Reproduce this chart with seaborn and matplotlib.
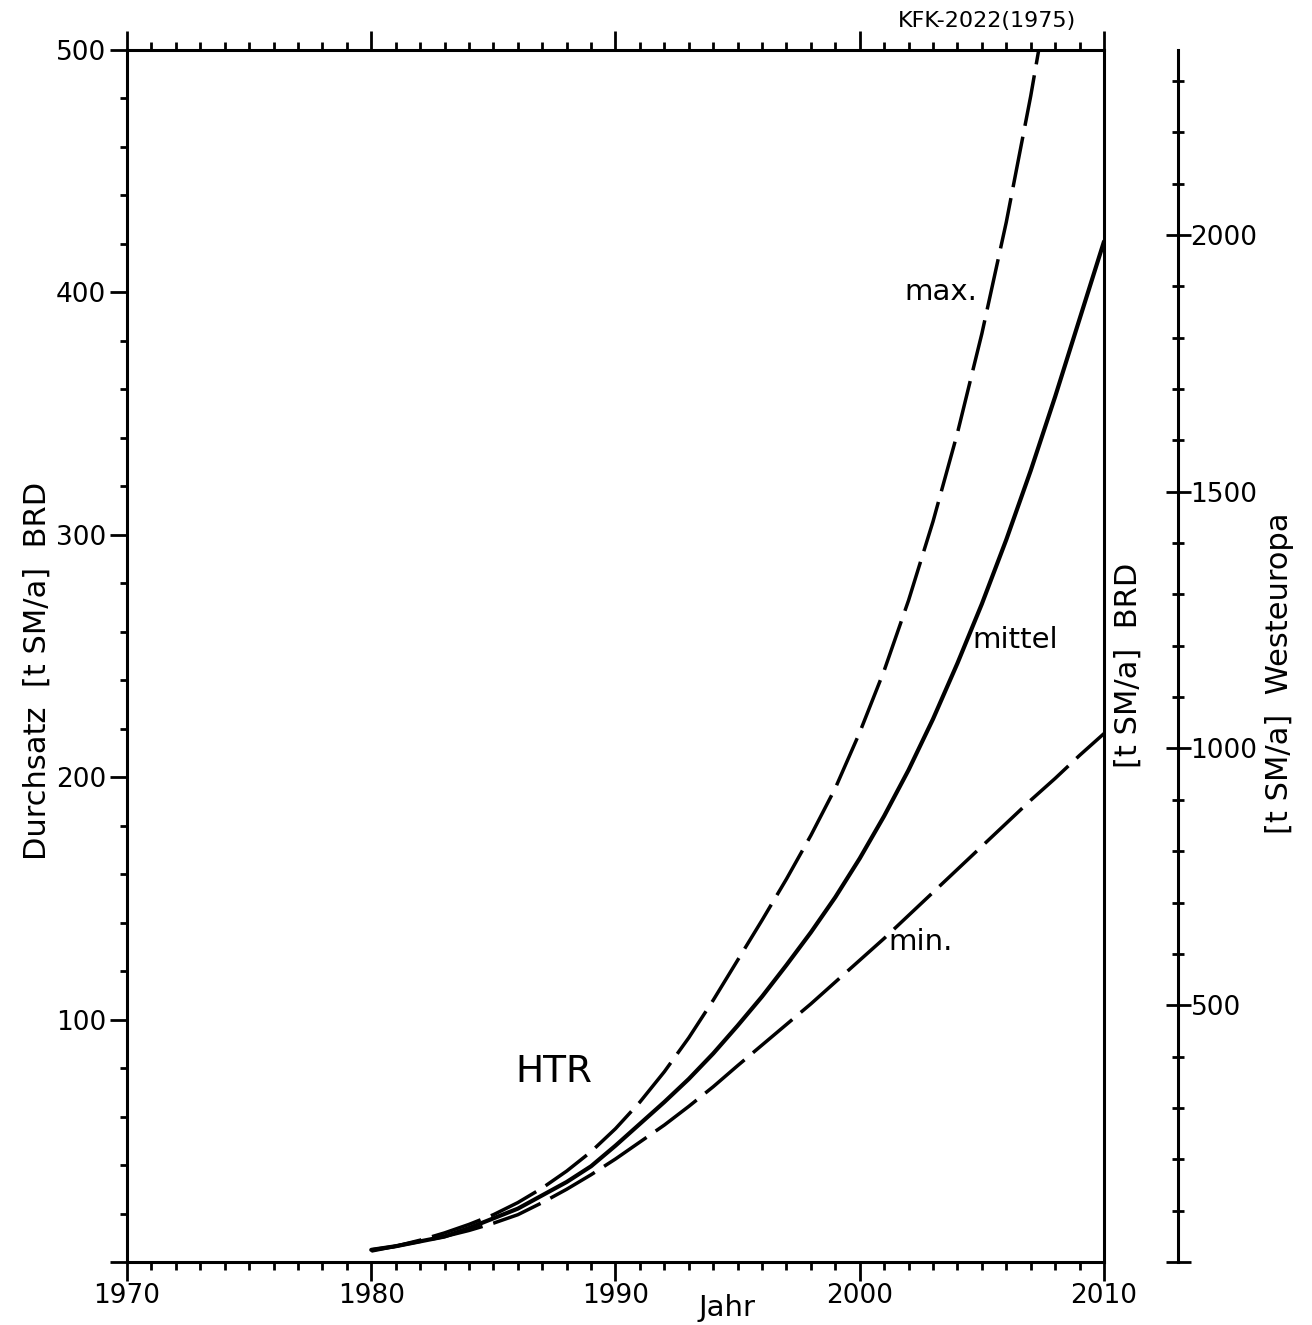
import matplotlib
matplotlib.use("Agg")
import matplotlib.pyplot as plt
import seaborn as sns
import pandas as pd
from matplotlib.ticker import FixedLocator, MultipleLocator

# ---------------- data ----------------
years = [1980, 1981, 1982, 1983, 1984, 1985, 1986, 1987, 1988, 1989,
         1990, 1991, 1992, 1993, 1994, 1995, 1996, 1997, 1998, 1999,
         2000, 2001, 2002, 2003, 2004, 2005, 2006, 2007, 2008, 2009, 2010]

mittel = [5, 6.5, 8.5, 10.5, 14, 18, 22, 27.5, 33, 39.5,
          48, 57, 66, 75.5, 86, 97.5, 109.5, 122.5, 136, 150.5,
          166.5, 184, 203, 224, 247, 271.5, 298, 326.5, 357, 389, 421]

min_vals = [5, 6.5, 8.5, 10.5, 13, 16, 19.5, 24.5, 30, 36,
            42.5, 49.5, 56.5, 64.2, 72.3, 81, 89.5, 98, 106.5, 115.5,
            124.5, 133.5, 143, 152.5, 162, 171.5, 181, 190.5, 199.5, 209, 218]

max_years = [1980, 1981, 1982, 1983, 1984, 1985, 1986, 1987, 1988, 1989,
             1990, 1991, 1992, 1993, 1994, 1995, 1996, 1997, 1998, 1999,
             2000, 2001, 2002, 2003, 2004, 2005, 2006, 2007, 2008]
max_vals = [4.5, 6.5, 9, 12, 15.5, 19.5, 24.5, 30.5, 37.5, 45.5,
            55, 66, 78.5, 92.5, 108, 124.5, 141, 158, 176, 195.5,
            218.5, 244, 273, 305.5, 342, 383, 429, 481, 539]

x_major = [1970, 1980, 1990, 2000, 2010]
x_labels = ["1970", "1980", "1990", "2000", "2010"]
y_major = [0, 100, 200, 300, 400, 500]
y_labels = ["", "100", "200", "300", "400", "500"]
we_major = [0, 500, 1000, 1500, 2000]
we_labels = ["", "500", "1000", "1500", "2000"]
we_minor = [v for v in range(100, 2400, 100) if v % 500 != 0]

# ---------------- style ----------------
sns.set_style("ticks")
plt.rcParams["font.family"] = ["DejaVu Sans"]
plt.rcParams["lines.scale_dashes"] = False
plt.rcParams["axes.linewidth"] = 2.2
plt.rcParams["axes.edgecolor"] = "black"
plt.rcParams["text.color"] = "black"
plt.rcParams["xtick.color"] = "black"
plt.rcParams["ytick.color"] = "black"

fig = plt.figure(figsize=(13.12, 13.25), dpi=100)
fig.patch.set_facecolor("white")
ax = fig.add_axes([0.0968, 0.04755, 0.74466, 0.91471])
ax.set_facecolor("white")

df_mid = pd.DataFrame({"Jahr": years, "Durchsatz": mittel})
df_min = pd.DataFrame({"Jahr": years, "Durchsatz": min_vals})
df_max = pd.DataFrame({"Jahr": max_years, "Durchsatz": max_vals})

sns.lineplot(data=df_max, x="Jahr", y="Durchsatz", ax=ax, color="black",
             linewidth=2.5, legend=False)
ax.lines[-1].set_dashes((37, 8))
sns.lineplot(data=df_min, x="Jahr", y="Durchsatz", ax=ax, color="black",
             linewidth=2.5, legend=False)
ax.lines[-1].set_dashes((37, 8))
sns.lineplot(data=df_mid, x="Jahr", y="Durchsatz", ax=ax, color="black",
             linewidth=3.0, legend=False)

ax.set_xlim(1970, 2010)
ax.set_ylim(0, 500)
ax.set_xlabel("")
ax.set_ylabel("")

for s in ax.spines.values():
    s.set_visible(True)
    s.set_linewidth(2.2)

ax.xaxis.set_major_locator(FixedLocator(x_major))
ax.xaxis.set_minor_locator(MultipleLocator(1))
ax.set_xticklabels(x_labels)
ax.yaxis.set_major_locator(FixedLocator(y_major))
ax.yaxis.set_minor_locator(MultipleLocator(20))
ax.set_yticklabels(y_labels)

ax.tick_params(axis="x", which="major", direction="out", length=14, width=2.0,
               top=True, bottom=True, labeltop=False, labelsize=19, pad=1)
ax.tick_params(axis="x", which="minor", direction="out", length=6, width=2.0,
               top=True, bottom=True)
ax.tick_params(axis="y", which="major", direction="out", length=12, width=2.0,
               left=True, right=True, labelright=False, labelsize=19, pad=3)
ax.tick_params(axis="y", which="minor", direction="out", length=5, width=2.0,
               left=True, right=True)

# Westeuropa axis
ax2 = ax.twinx()
ax2.set_ylim(0, 2360)
for side in ("left", "top", "bottom"):
    ax2.spines[side].set_visible(False)
ax2.spines["right"].set_position(("axes", 1.0757))
ax2.spines["right"].set_linewidth(2.2)
ax2.yaxis.set_major_locator(FixedLocator(we_major))
ax2.set_yticklabels(we_labels)
ax2.yaxis.set_minor_locator(FixedLocator(we_minor))
ax2.tick_params(axis="y", which="major", direction="inout", length=18, width=2.0,
                labelsize=19, pad=0)
ax2.tick_params(axis="y", which="minor", direction="inout", length=9, width=2.0)

# curve labels
ax.text(2003.33, 400, "max.", fontsize=21, ha="center", va="center")
ax.text(2006.36, 256.6, "mittel", fontsize=21, ha="center", va="center")
ax.text(2002.5, 132, "min.", fontsize=21, ha="center", va="center")
ax.text(1987.48, 78.4, "HTR", fontsize=27, ha="center", va="center")

# axis titles
fig.text(0.554, 0.0128, "Jahr", fontsize=21, ha="center", va="center")
fig.text(0.752, 0.984, "KFK-2022(1975)", fontsize=16, ha="center", va="center")
fig.text(0.0282, 0.4936, "Durchsatz  [t SM/a]  BRD", fontsize=22, rotation=90,
         ha="center", va="center")
fig.text(0.8598, 0.498, "[t SM/a]  BRD", fontsize=22, rotation=90,
         ha="center", va="center")
fig.text(0.9755, 0.492, "[t SM/a]  Westeuropa", fontsize=22, rotation=90,
         ha="center", va="center")

fig.savefig("out.png", dpi=100, facecolor="white")
